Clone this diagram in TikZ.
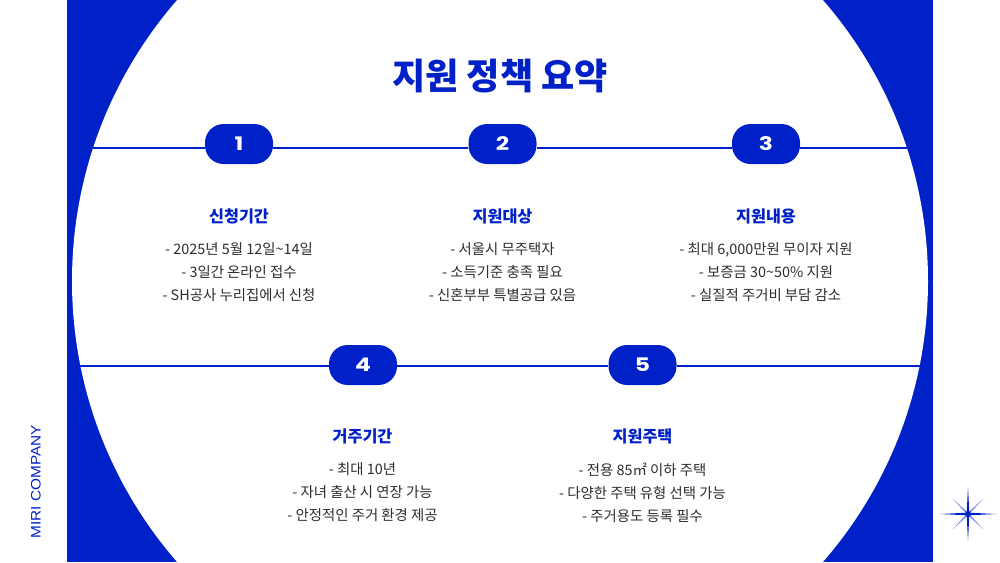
\documentclass[tikz,border=0pt]{standalone}
\usepackage{fontspec}
\setmainfont{Noto Sans CJK KR}
\newfontfamily\numfont[FakeStretch=1.25]{Poppins Bold}
\newfontfamily\brandfont[FakeStretch=1.12]{Liberation Sans}
\usetikzlibrary{positioning}
\definecolor{miriblue}{RGB}{0,32,200}
\definecolor{bodygray}{RGB}{45,45,50}
\newcommand{\pxu}{*0.75pt}
\tikzset{
  pill/.style={fill=miriblue,text=white,rounded corners=14pt,minimum width=68\pxu,minimum height=40\pxu,inner sep=0pt,font=\numfont\fontsize{14}{14}\selectfont},
  heading/.style={text=miriblue,font=\fontsize{12.2}{14}\selectfont\bfseries},
  body/.style={text=bodygray,align=center,font=\fontsize{10.8}{17.3}\selectfont},
  rule/.style={miriblue,line width=1.5pt}
}
\begin{document}
\begin{tikzpicture}[x=0.75pt,y=-0.75pt]
\useasboundingbox (0,0) rectangle (1000,562);
% side panel and circle
\begin{scope}
\clip (0,0) rectangle (1000,562);
\fill[miriblue] (67,0) rectangle (933,562);
\fill[white] (500,281) circle [radius=428];
\end{scope}
% title
\node[text=miriblue,font=\fontsize{27.1}{30}\selectfont\bfseries] (title) at (500,76) {지원 정책 요약};
% top row
\coordinate (topl) at (93,148);
\coordinate (topr) at (933,148);
\node[pill] (p1) at (239,144) {1};
\node[pill] (p2) at (502.5,144) {2};
\node[pill] (p3) at (766,144) {3};
\draw[rule] (topl) -- (p1.west |- topl);
\draw[rule] (p1.east |- topl) -- (p2.west |- topl);
\draw[rule] (p2.east |- topl) -- (p3.west |- topl);
\draw[rule] (p3.east |- topl) -- (topr);
% bottom row
\coordinate (botl) at (80,366);
\coordinate (botr) at (920,366);
\node[pill] (p4) at (363,365) {4};
\node[pill] (p5) at (642.5,365) {5};
\draw[rule] (botl) -- (p4.west |- botl);
\draw[rule] (p4.east |- botl) -- (p5.west |- botl);
\draw[rule] (p5.east |- botl) -- (botr);
% headings
\node[heading] (h1) at (239,216.5) {신청기간};
\node[heading] (h2) at (502.5,216.5) {지원대상};
\node[heading] (h3) at (766,216.5) {지원내용};
\node[heading] (h4) at (362.5,436.5) {거주기간};
\node[heading] (h5) at (642.5,436.5) {지원주택};
% lists
\node[body] (b1) at (239,272.5) {- 2025년 5월 12일\textasciitilde14일\\- 3일간 온라인 접수\\- SH공사 누리집에서 신청};
\node[body] (b2) at (502.5,272.5) {- 서울시 무주택자\\- 소득기준 충족 필요\\- 신혼부부 특별공급 있음};
\node[body] (b3) at (766,272.5) {- 최대 6,000만원 무이자 지원\\- 보증금 30\textasciitilde50\% 지원\\- 실질적 주거비 부담 감소};
\node[body] (b4) at (362.5,492.5) {- 최대 10년\\- 자녀 출산 시 연장 가능\\- 안정적인 주거 환경 제공};
\node[body] (b5) at (642.5,492.5) {- 전용 85㎡ 이하 주택\\- 다양한 주택 유형 선택 가능\\- 주거용도 등록 필수};
% brand
\node[rotate=90,text=miriblue,font=\brandfont\fontsize{10.3}{10}\selectfont] (brand) at (36,481.5) {MIRI COMPANY};
% star
\fill[miriblue] (968,487) -- (969.3,512.7) -- (996,514) -- (969.3,515.3) -- (968,541)
  -- (966.7,515.3) -- (940,514) -- (966.7,512.7) -- cycle;
\fill[miriblue!55] (983,499) -- (969.3,514) -- (968,512.7) -- cycle;
\fill[miriblue!55] (953,499) -- (966.7,514) -- (968,512.7) -- cycle;
\fill[miriblue!55] (983,529) -- (969.3,514) -- (968,515.3) -- cycle;
\fill[miriblue!55] (953,529) -- (966.7,514) -- (968,515.3) -- cycle;
\fill[miriblue] (968,514) circle [radius=3];
\end{tikzpicture}
\end{document}
